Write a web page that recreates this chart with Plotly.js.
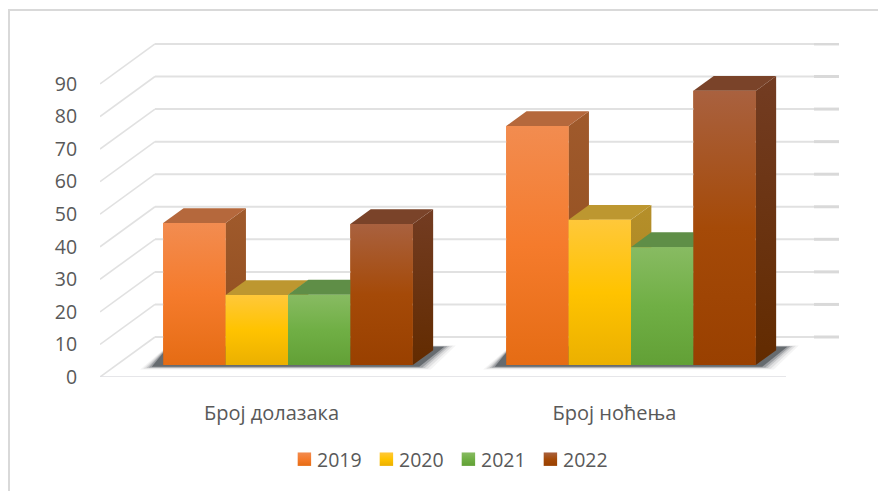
<!DOCTYPE html>
<html><head><meta charset="utf-8">
<script src="https://cdn.plot.ly/plotly-3.0.1.min.js"></script>
<style>html,body{margin:0;padding:0;background:#fff}</style></head>
<body><div id="chart" style="width:878px;height:491px"></div>
<script>
const categories = ['Број долазака', 'Број ноћења'];
const years = ['2019', '2020', '2021', '2022'];
const v2019 = [43.6, 73.4];
const v2020 = [21.5, 44.6];
const v2021 = [21.6, 36.2];
const v2022 = [43.3, 84.2];
const yTicks = [0, 10, 20, 30, 40, 50, 60, 70, 80, 90];

const seriesValues = [v2019, v2020, v2021, v2022];
const frontGrad = [['#E56C14', '#F57B2C', '#F28C50'], ['#EBB000', '#FFC300', '#FFC83A'], ['#62A036', '#70AF45', '#88BB62'], ['#994000', '#A54A08', '#A9613F']];
const sideGrad = [['#8E4C1C', '#A05A2C'], ['#A6821C', '#B58F2A'], ['#55853A', '#5C8C42'], ['#622B00', '#733C22']];
const topCol = ['#B5683C', '#BD9730', '#5F8E47', '#7A4329'];
const midCol = ['#F27A26', '#FFC000', '#70AD47', '#A44A08'];

// projection: front plane -> back wall
const PXX = 343, PXY = 3.256;
const DX = 55 / PXX, DY = 40 / PXY;
const D0 = 0.3, D1 = 0.67;
const BW = 62.4 / PXX;
const P = (x, v, d) => [x + d * DX, v + d * DY];
const XR = 740 / PXX, YR = 334 / PXY;
const traces = [];
const GRID = '#E1E1E1', GRID2 = '#D9D9D9';

function poly(pts, extra) {
  return Object.assign({ type: 'scatter', x: pts.map(p => p[0]).concat(pts[0][0]), y: pts.map(p => p[1]).concat(pts[0][1]),
    mode: 'lines', line: { width: 0 }, fill: 'toself', showlegend: false, hoverinfo: 'skip', cliponaxis: false }, extra);
}
function seg(a, b, w, c) {
  traces.push({ type: 'scatter', x: [a[0], b[0]], y: [a[1], b[1]], mode: 'lines', line: { width: w, color: c }, showlegend: false, hoverinfo: 'skip', cliponaxis: false });
}
function grad(stops) {
  const n = stops.length - 1;
  return { type: 'vertical', colorscale: stops.map((c, i) => [i / n, c]) };
}

// legend-carrying bars (front faces)
years.forEach((yr, s) => {
  traces.push({ type: 'bar', name: yr, x: categories.map((_, g) => g + 0.5 + D0 * DX + (s - 1.5) * BW),
    y: seriesValues[s], base: categories.map(() => D0 * DY), width: BW, marker: { color: midCol[s], line: { width: 0 } }, hoverinfo: 'skip' });
});

// walls
yTicks.forEach(v => {
  const a = P(0, v, 0), b = P(0, v, 1);
  seg(a, b, 1.6, GRID);
  seg(b, [714 / PXX, b[1]], 2, GRID);
  seg([714 / PXX, b[1]], [739 / PXX, b[1]], 3, GRID2);
});
seg(P(0, 0, 0), P(2, 0, 0), 1.6, '#DEDEE2');

// floor shadow
categories.forEach((_, g) => {
  const x0 = g + 0.5 + D0 * DX - 2 * BW, x1 = x0 + 4 * BW;
  const px = 1 / PXX, py = 1 / PXY;
  const b = D0 * DY;
  [[10, 'rgba(110,115,120,0.08)'], [7, 'rgba(110,115,120,0.14)'], [4, 'rgba(100,105,110,0.22)'], [1.5, 'rgba(90,95,100,0.36)'], [-1.5, 'rgba(78,84,88,0.7)']].forEach(([g2, c]) => {
    traces.push(poly([[x0 - (13 + g2) * px, b - (2 + g2 * 0.25) * py], [x1 + (8 + g2) * px, b - (2 + g2 * 0.25) * py],
      [x1 + (33 + g2) * px, b + (18.5 + g2 * 0.1) * py], [x0 + 5 * px, b + (18.5 + g2 * 0.1) * py]], { fillcolor: c }));
  });
});

// bars, left to right: side, top, gradient front
categories.forEach((_, g) => {
  years.forEach((yr, s) => {
    const v = seriesValues[s][g];
    const xl = g + 0.5 - 2 * BW + s * BW, xr = xl + BW;
    traces.push(poly([P(xr, 0, D0), P(xr, v, D0), P(xr, v, D1), P(xr, 0, D1)], { fillgradient: grad(sideGrad[s]) }));
    traces.push(poly([P(xl, v, D0), P(xr, v, D0), P(xr, v, D1), P(xl, v, D1)], { fillcolor: topCol[s] }));
    traces.push(poly([P(xl, 0, D0), P(xr, 0, D0), P(xr, v, D0), P(xl, v, D0)], { fillgradient: grad(frontGrad[s]) }));
  });
});

const pxX = p => (p - 100) / 740, pxY = p => 1 - (p - 43) / 334;
const layout = {
  width: 878, height: 491, paper_bgcolor: '#fff', plot_bgcolor: 'rgba(0,0,0,0)', showlegend: true, barmode: 'overlay',
  margin: { l: 100, r: 38, t: 43, b: 114 },
  font: { family: '"Open Sans", sans-serif', color: '#595959' },
  xaxis: { range: [0, XR], tickmode: 'array', tickvals: [0.5, 1.5], ticktext: categories, showgrid: false, zeroline: false, showline: false,
    ticks: 'outside', ticklen: 18, tickcolor: 'rgba(0,0,0,0)', tickfont: { size: 20, color: '#595959' }, fixedrange: true },
  yaxis: { range: [0, YR], tickmode: 'array', tickvals: yTicks, ticktext: yTicks.map(String), showgrid: false, zeroline: false, showline: false,
    ticks: 'outside', ticklen: 18, tickcolor: 'rgba(0,0,0,0)', tickfont: { size: 19.5, color: '#595959' }, fixedrange: true },
  legend: { orientation: 'h', xref: 'container', yref: 'container', x: 277 / 878, xanchor: 'left', y: 1 - 440 / 491, yanchor: 'top', font: { size: 19.5, color: '#595959' }, entrywidth: 37, entrywidthmode: 'pixels', traceorder: 'normal', itemclick: false, itemdoubleclick: false },
  shapes: [
    { type: 'line', xref: 'paper', yref: 'paper', x0: pxX(9), x1: pxX(9), y0: pxY(10), y1: pxY(491), line: { color: '#D9D9D9', width: 2 } },
    { type: 'line', xref: 'paper', yref: 'paper', x0: pxX(8), x1: pxX(878), y0: pxY(10), y1: pxY(10), line: { color: '#D9D9D9', width: 2 } }
  ]
};
Plotly.newPlot('chart', traces, layout, { displayModeBar: false, staticPlot: true }).then(gd => {
  // legend swatches: same top-to-bottom shading as the bars, close to their labels
  const svg = gd.querySelector('.main-svg');
  const defs = svg.querySelector('defs');
  const box = gd.querySelector('.legend .scrollbox');
  if (box) box.removeAttribute('clip-path');
  gd.querySelectorAll('.legend .traces').forEach((t, i) => {
    const id = 'legendShade' + i;
    const stops = frontGrad[i].slice().reverse().map((c, k) => `<stop offset="${k * 50}%" stop-color="${c}"/>`).join('');
    defs.insertAdjacentHTML('beforeend', `<linearGradient id="${id}" x1="0" y1="0" x2="0" y2="1">${stops}</linearGradient>`);
    const lp = t.querySelector('.legendpoints');
    lp.setAttribute('transform', 'translate(5,0) scale(1.12)');
    lp.querySelectorAll('path').forEach(p => { p.style.fill = `url(#${id})`; });
  });
});
</script></body></html>
